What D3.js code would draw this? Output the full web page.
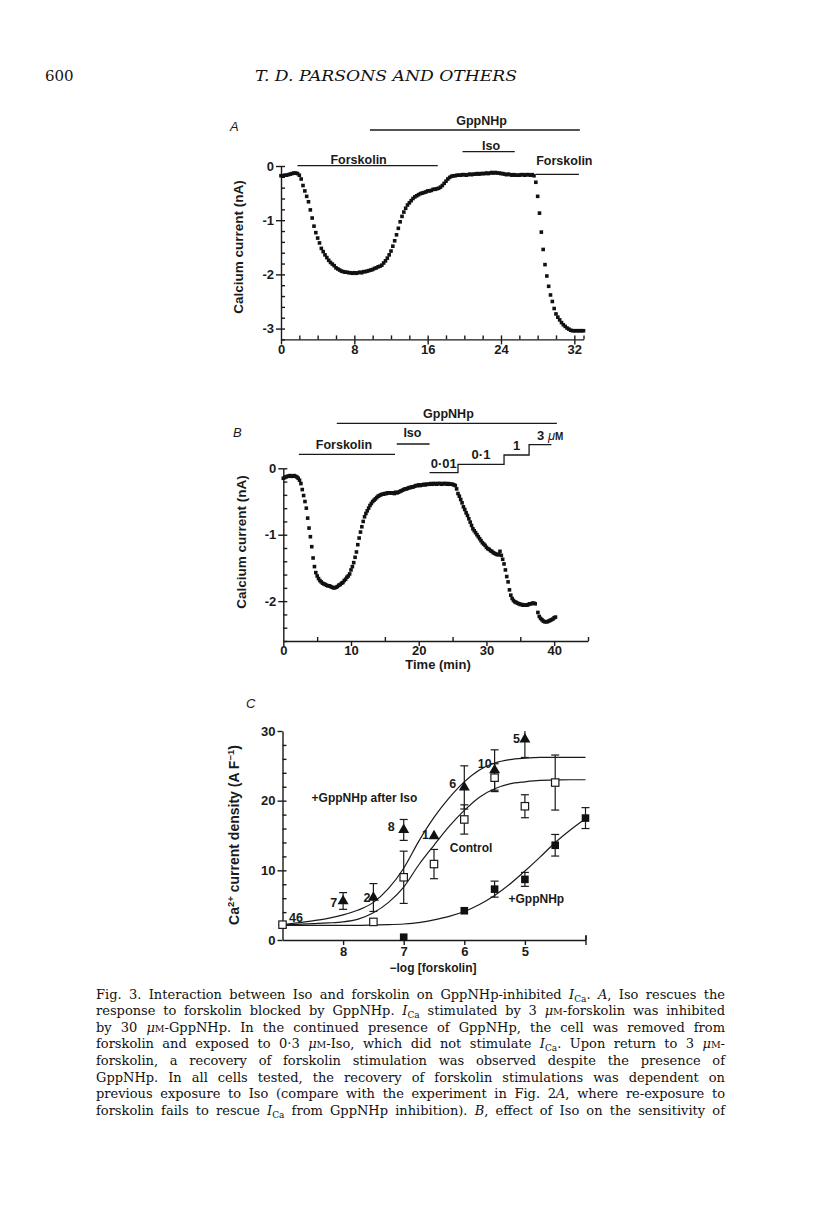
<!DOCTYPE html>
<html>
<head>
<meta charset="utf-8">
<title>Fig. 3</title>
<script src="https://cdn.jsdelivr.net/npm/d3@7/dist/d3.min.js"></script>
<style>
  body { margin: 0; background: #fff; }
  .lab { font-family: "Liberation Sans", Arial, sans-serif; font-weight: bold; fill: #1a1a1a; }
  .serif { font-family: "DejaVu Serif", serif; fill: #111; }
</style>
</head>
<body>
<svg id="page" width="816" height="1206"></svg>
<script>
// ---------------- data ----------------

// A: calcium current (nA), one sample every 0.2 min from t = 0
var sampleStepA = 0.2;
var currentA = [
  -0.18,-0.18,-0.17,-0.17,-0.16,-0.15,-0.14,-0.13,-0.13,-0.14,
  -0.17,-0.24,-0.36,-0.46,-0.56,-0.66,-0.81,-0.96,-1.11,-1.23,
  -1.33,-1.42,-1.52,-1.58,-1.64,-1.69,-1.74,-1.78,-1.81,-1.84,
  -1.88,-1.90,-1.92,-1.94,-1.95,-1.96,-1.96,-1.97,-1.97,-1.98,
  -1.97,-1.98,-1.97,-1.96,-1.97,-1.95,-1.95,-1.94,-1.93,-1.92,
  -1.91,-1.89,-1.88,-1.86,-1.85,-1.83,-1.79,-1.75,-1.70,-1.64,
  -1.57,-1.48,-1.38,-1.27,-1.15,-1.03,-0.93,-0.85,-0.78,-0.72,
  -0.68,-0.64,-0.60,-0.57,-0.55,-0.53,-0.51,-0.50,-0.49,-0.48,
  -0.46,-0.46,-0.45,-0.43,-0.43,-0.42,-0.41,-0.39,-0.36,-0.32,
  -0.28,-0.24,-0.21,-0.19,-0.18,-0.18,-0.17,-0.17,-0.17,-0.16,
  -0.16,-0.17,-0.16,-0.15,-0.16,-0.15,-0.15,-0.14,-0.15,-0.14,
  -0.14,-0.14,-0.13,-0.14,-0.13,-0.12,-0.13,-0.12,-0.13,-0.13,
  -0.14,-0.14,-0.15,-0.16,-0.15,-0.16,-0.17,-0.16,-0.17,-0.17,
  -0.17,-0.16,-0.16,-0.17,-0.16,-0.16,-0.17,-0.16,-0.18,-0.30,
  -0.56,-0.87,-1.22,-1.54,-1.82,-2.03,-2.22,-2.38,-2.50,-2.63,
  -2.73,-2.79,-2.84,-2.89,-2.93,-2.96,-2.99,-3.01,-3.03,-3.04,
  -3.04,-3.04,-3.04,-3.04,-3.04,-3.04
];
var drugsA = ["GppNHp", "Forskolin", "Iso", "Forskolin"];
var drugOnA = [9.7, 1.8, 19.8, 27.8];
var drugOffA = [32.6, 17.1, 25.5, 32.5];

// B: calcium current (nA), one sample every 0.2 min (null = gap in record)
var sampleStepB = 0.2;
var currentB = [
  -0.15,-0.14,-0.13,-0.12,-0.12,-0.11,-0.12,-0.12,-0.11,-0.12,
  -0.13,-0.15,-0.18,-0.23,-0.32,-0.41,-0.50,-0.60,-0.75,-0.90,
  -1.03,-1.18,-1.35,-1.48,-1.57,-1.62,-1.66,-1.69,-1.71,-1.73,
  -1.74,-1.75,-1.76,-1.77,-1.77,-1.78,-1.79,-1.80,-1.80,-1.79,
  -1.78,-1.76,-1.75,-1.73,-1.72,-1.69,-1.67,-1.64,-1.62,-1.59,
  -1.53,-1.48,-1.42,-1.34,-1.26,-1.15,-1.05,-0.96,-0.88,-0.80,
  -0.73,-0.68,-0.64,-0.60,-0.56,-0.53,-0.50,-0.48,-0.46,-0.44,
  -0.42,-0.41,-0.40,-0.39,-0.39,-0.38,-0.38,-0.37,-0.37,-0.37,
  -0.37,-0.37,-0.38,-0.36,-0.37,-0.36,-0.35,-0.34,-0.33,-0.32,
  -0.31,-0.31,-0.30,-0.29,-0.29,-0.28,-0.28,-0.27,-0.26,-0.26,
  -0.25,-0.26,-0.25,-0.25,-0.24,-0.25,-0.24,-0.24,-0.24,-0.23,
  -0.24,-0.23,-0.23,-0.24,-0.23,-0.23,-0.23,-0.24,-0.23,-0.23,
  -0.23,-0.24,-0.23,-0.24,-0.24,-0.24,-0.25,-0.26,-0.31,-0.38,
  -0.42,-0.47,-0.52,-0.58,-0.62,-0.67,-0.71,-0.76,-0.81,-0.86,
  -0.91,-0.94,-0.97,-1.00,-1.03,-1.06,-1.09,-1.12,-1.14,-1.16,
  -1.19,-1.21,-1.22,-1.24,-1.25,-1.27,-1.28,-1.29,-1.30,-1.30,
  -1.25,-1.31,-1.37,-1.44,-1.53,-1.63,-1.71,-1.83,-1.91,-1.96,
  -1.99,-2.01,-2.02,-2.03,-2.04,-2.05,-2.05,-2.06,-2.06,-2.06,
  -2.06,-2.05,-2.04,-2.04,-2.03,-2.03,-2.04, null,-2.17,-2.23,
  -2.26,-2.28,-2.30,-2.31,-2.31,-2.31,-2.30,-2.29,-2.28,-2.27,
  -2.25,-2.24
];
var drugsB = ["GppNHp", "Forskolin", "Iso"];
var drugOnB = [7.9, 2.3, 16.75];
var drugOffB = [40.4, 16.5, 21.6];
var doseLabels = ["0·01", "0·1", "1", "3"];
var doseOn = [21.6, 25.8, 32.6, 36.3];
var doseOff = [25.8, 32.6, 36.3, 39.6];

// C: Ca2+ current density (A/F) against -log[forskolin]
var isoLog = [8, 7.5, 7, 6.5, 6, 5.5, 5];              // +GppNHp after Iso (filled triangles)
var isoMean = [5.6, 6.1, 15.8, 14.9, 21.9, 24.4, 28.8];
var isoErr = [1.2, 2.0, 1.5, 0, 3.1, 2.9, 2.6];
var isoN = ["7", "2", "8", "1", "6", "10", "5"];

var ctlLog = [9, 7.5, 7, 6.5, 6, 5.5, 5, 4.5];          // Control (open squares)
var ctlMean = [2.2, 2.6, 9.0, 10.9, 17.3, 23.3, 19.2, 22.6];
var ctlErr = [0, 0, 3.75, 2.1, 2.1, 2.0, 1.65, 3.95];
var ctlN = ["46"];

var gppLog = [7, 6, 5.5, 5, 4.5, 4];                    // +GppNHp (filled squares)
var gppMean = [0.4, 4.2, 7.3, 8.7, 13.6, 17.5];
var gppErr = [0, 0, 1.15, 1.0, 1.55, 1.5];

// fitted curves
var fitLog = [9, 8.75, 8.5, 8.25, 8, 7.75, 7.5, 7.25, 7, 6.75, 6.5, 6.25, 6, 5.75, 5.5, 5.25, 5, 4.75, 4.5, 4.25, 4];
var fitIso = [2.2, 2.45, 2.75, 3.1, 3.6, 4.3, 5.4, 7.4, 10.3, 14.2, 17.6, 20.4, 22.7, 24.4, 25.4, 25.9, 26.1, 26.2, 26.2, 26.2, 26.2];
var fitCtl = [2.2, 2.25, 2.35, 2.45, 2.6, 3.0, 3.9, 5.4, 7.6, 10.8, 13.6, 16.3, 18.6, 20.5, 21.7, 22.4, 22.7, 22.9, 22.95, 23.0, 23.0];
var fitGpp = [2.1, 2.1, 2.1, 2.1, 2.1, 2.1, 2.15, 2.2, 2.3, 2.5, 2.9, 3.4, 4.1, 5.1, 6.4, 8.0, 9.9, 11.9, 14.0, 15.8, 17.4];

var captionLines = [
  ["Fig. 3. Interaction between Iso and forskolin on GppNHp-inhibited ", "I", "Ca", ". ", "A", ", Iso rescues the"],
  ["response to forskolin blocked by GppNHp. ", "I", "Ca", " stimulated by 3 ", "μ", "M", "-forskolin was inhibited"],
  ["by 30 ", "μ", "M", "-GppNHp. In the continued presence of GppNHp, the cell was removed from"],
  ["forskolin and exposed to 0·3 ", "μ", "M", "-Iso, which did not stimulate ", "I", "Ca", ". Upon return to 3 ", "μ", "M", "-"],
  ["forskolin, a recovery of forskolin stimulation was observed despite the presence of"],
  ["GppNHp. In all cells tested, the recovery of forskolin stimulations was dependent on"],
  ["previous exposure to Iso (compare with the experiment in Fig. 2", "A", ", where re-exposure to"],
  ["forskolin fails to rescue ", "I", "Ca", " from GppNHp inhibition). ", "B", ", effect of Iso on the sensitivity of"]
];

// ---------------- drawing ----------------
var svg = d3.select("#page");
var ink = "#1a1a1a";

function axes(x, y, o) {
  var x0 = x.range()[0], y0 = y.range()[0];
  var gy = svg.append("g").attr("class", "axis").attr("transform", "translate(" + x0 + ",0)");
  gy.call(d3.axisLeft(y).tickValues(o.yMajor).tickSize(5).tickSizeOuter(0).tickPadding(2).tickFormat(o.yFmt));
  gy.append("g").call(d3.axisLeft(y).tickValues(o.yMinor).tickSize(-4).tickFormat("")).select(".domain").remove();
  var gx = svg.append("g").attr("class", "axis").attr("transform", "translate(0," + y0 + ")");
  gx.call(d3.axisBottom(x).tickValues(o.xMajor).tickSize(5).tickSizeOuter(0).tickPadding(o.xPad).tickFormat(o.xFmt));
  gx.append("g").call(d3.axisBottom(x).tickValues(o.xMinor).tickSize(-4).tickFormat("")).select(".domain").remove();
  svg.selectAll(".axis").attr("font-family", null).attr("font-size", null);
  svg.selectAll(".axis text").attr("class", "lab").style("font-size", "13px");
  svg.selectAll(".axis path, .axis line").attr("stroke", ink).attr("stroke-width", 1.4);
}

function yTitle(cx, cy, size) {
  return svg.append("text").attr("class", "lab")
    .attr("transform", "translate(" + cx + "," + cy + ") rotate(-90)")
    .attr("text-anchor", "middle").style("font-size", size + "px");
}

function panelLetter(s, x, y) {
  svg.append("text").attr("class", "lab").attr("x", x).attr("y", y)
    .style("font-style", "italic").style("font-weight", "normal").style("font-size", "13px").text(s);
}

function drugBars(names, on, off, x, rows, nudge) {
  names.forEach(function (n, i) {
    svg.append("line").attr("x1", x(on[i])).attr("x2", x(off[i]))
      .attr("y1", rows[i]).attr("y2", rows[i]).attr("stroke", ink).attr("stroke-width", 1.3);
    svg.append("text").attr("class", "lab").attr("text-anchor", "middle")
      .attr("x", (x(on[i]) + x(off[i])) / 2 + nudge[i][0]).attr("y", rows[i] + nudge[i][1])
      .style("font-size", "12.5px").text(n);
  });
}

function trace(values, step, x, y) {
  var pts = values.map(function (v, i) { return { t: i * step, v: v }; })
    .filter(function (d) { return d.v !== null; });
  svg.append("g").selectAll("rect").data(pts).join("rect")
    .attr("x", function (d) { return x(d.t) - 1.8; })
    .attr("y", function (d) { return y(d.v) - 1.8; })
    .attr("width", 3.6).attr("height", 3.6).attr("fill", "#111");
}

// ---- page header ----
svg.append("text").attr("class", "serif").attr("x", 45).attr("y", 81).style("font-size", "15px").text("600");
svg.append("text").attr("class", "serif").attr("x", 255).attr("y", 81)
  .attr("textLength", 262).attr("lengthAdjust", "spacingAndGlyphs")
  .style("font-size", "15px").style("font-style", "italic").text("T. D. PARSONS AND OTHERS");

// ---- panel A ----
var xA = d3.scaleLinear().domain([0, 33]).range([281, 583.5]);
var yA = d3.scaleLinear().domain([-3.2, 0]).range([339.4, 166]);
axes(xA, yA, {
  yMajor: [0, -1, -2, -3], yMinor: d3.range(0, -3.21, -0.2),
  xMajor: [0, 8, 16, 24, 32], xMinor: d3.range(2, 33, 2).concat([33]),
  yFmt: function (d) { return String(d); }, xFmt: function (d) { return String(d); }, xPad: 0
});
yTitle(243, 247, 13.5).text("Calcium current (nA)");
panelLetter("A", 230, 131);
drugBars(drugsA, drugOnA, drugOffA, xA, [130, 165.7, 151.7, 174.3],
  [[6.7, -5.5], [-9, -1.5], [2.4, -1.7], [7, -9.3]]);
trace(currentA, sampleStepA, xA, yA);

// ---- panel B ----
var xB = d3.scaleLinear().domain([0, 45]).range([283.3, 588]);
var yB = d3.scaleLinear().domain([-2.6, 0]).range([641, 468.3]);
axes(xB, yB, {
  yMajor: [0, -1, -2], yMinor: d3.range(0, -2.61, -0.2),
  xMajor: [0, 10, 20, 30, 40], xMinor: [5, 15, 25, 35, 45],
  yFmt: function (d) { return String(d); }, xFmt: function (d) { return String(d); }, xPad: 0
});
yTitle(246, 542, 13.5).text("Calcium current (nA)");
svg.append("text").attr("class", "lab").attr("x", 438).attr("y", 668.5)
  .attr("text-anchor", "middle").style("font-size", "13px").text("Time (min)");
panelLetter("B", 233, 437);
drugBars(drugsB, drugOnB, drugOffB, xB, [423.3, 454.3, 444], [[1.6, -5.6], [-3, -5], [-0.7, -7.3]]);

// forskolin concentration steps
var doseRows = [472.7, 464.3, 455, 444.7];
var stepPts = [];
doseLabels.forEach(function (c, i) {
  stepPts.push([xB(doseOn[i]), doseRows[i]], [xB(doseOff[i]), doseRows[i]]);
});
svg.append("path").attr("d", d3.line()(stepPts)).attr("fill", "none")
  .attr("stroke", ink).attr("stroke-width", 1.3);
doseLabels.forEach(function (c, i) {
  var last = i === doseLabels.length - 1;
  var t = svg.append("text").attr("class", "lab")
    .attr("text-anchor", last ? "start" : "middle")
    .attr("x", last ? xB(doseOn[i]) + 8 : (xB(doseOn[i]) + xB(doseOff[i])) / 2)
    .attr("y", doseRows[i] - 5.2).style("font-size", "13px").text(c);
  if (last) {
    t.append("tspan").text(" ");
    t.append("tspan").style("font-style", "italic").style("font-weight", "normal").text("μ");
    t.append("tspan").style("font-size", "10px").text("M");
  }
});
trace(currentB, sampleStepB, xB, yB);

// ---- panel C ----
var xC = d3.scaleLinear().domain([9, 4]).range([282.5, 585.5]);
var yC = d3.scaleLinear().domain([0, 30]).range([940, 731]);
axes(xC, yC, {
  yMajor: [0, 10, 20, 30], yMinor: d3.range(2, 30, 2),
  xMajor: [8, 7, 6, 5], xMinor: [4],
  yFmt: function (d) { return String(d); }, xFmt: function (d) { return String(d); }, xPad: 2
});
// tick crossing the right end of the x axis
svg.append("line").attr("x1", xC(4) + 0.5).attr("x2", xC(4) + 0.5).attr("y1", yC(0) - 5).attr("y2", yC(0) + 5)
  .attr("stroke", ink).attr("stroke-width", 1.4);

var yt = yTitle(239, 835, 14);
yt.append("tspan").text("Ca");
yt.append("tspan").attr("dy", -5).style("font-size", "9.5px").text("2+");
yt.append("tspan").attr("dy", 5).text(" current density (A F");
yt.append("tspan").attr("dy", -5).style("font-size", "9.5px").text("−1");
yt.append("tspan").attr("dy", 5).text(")");
svg.append("text").attr("class", "lab").attr("x", 433).attr("y", 972)
  .attr("text-anchor", "middle").style("font-size", "12px").text("−log [forskolin]");
panelLetter("C", 246, 708);

var fitLine = d3.line().curve(d3.curveMonotoneX)
  .x(function (d) { return xC(d[0]); }).y(function (d) { return yC(d[1]); });
[fitIso, fitCtl, fitGpp].forEach(function (f) {
  svg.append("path").attr("d", fitLine(fitLog.map(function (l, i) { return [l, f[i]]; })))
    .attr("fill", "none").attr("stroke", ink).attr("stroke-width", 1.2);
});

svg.append("defs").append("clipPath").attr("id", "plotC").append("rect")
  .attr("x", 270).attr("y", yC(30)).attr("width", 330).attr("height", yC(0) - yC(30) + 6);

function errorBars(logs, means, errs) {
  var g = svg.append("g").attr("clip-path", "url(#plotC)");
  logs.forEach(function (l, i) {
    if (!errs[i]) return;
    var xx = xC(l), lo = yC(means[i] - errs[i]), hi = yC(means[i] + errs[i]);
    g.append("line").attr("x1", xx).attr("x2", xx).attr("y1", lo).attr("y2", hi);
    g.append("line").attr("x1", xx - 4).attr("x2", xx + 4).attr("y1", lo).attr("y2", lo);
    g.append("line").attr("x1", xx - 4).attr("x2", xx + 4).attr("y1", hi).attr("y2", hi);
  });
  g.selectAll("line").attr("stroke", ink).attr("stroke-width", 1.2);
}
errorBars(ctlLog, ctlMean, ctlErr);
errorBars(gppLog, gppMean, gppErr);
errorBars(isoLog, isoMean, isoErr);

svg.append("g").selectAll("rect").data(ctlLog).join("rect")
  .attr("x", function (d) { return xC(d) - 3.7; })
  .attr("y", function (d, i) { return yC(ctlMean[i]) - 3.7; })
  .attr("width", 7.4).attr("height", 7.4).attr("fill", "#fff").attr("stroke", ink).attr("stroke-width", 1.2);
svg.append("g").selectAll("rect").data(gppLog).join("rect")
  .attr("x", function (d) { return xC(d) - 3.8; })
  .attr("y", function (d, i) { return yC(gppMean[i]) - 3.8; })
  .attr("width", 7.6).attr("height", 7.6).attr("fill", "#111");
svg.append("g").selectAll("path").data(isoLog).join("path")
  .attr("d", d3.symbol(d3.symbolTriangle, 52))
  .attr("transform", function (d, i) { return "translate(" + xC(d) + "," + yC(isoMean[i]) + ")"; })
  .attr("fill", "#111");

// n numbers beside the triangles
var nNudge = [[-1, 2], [2, 0], [-4, -3], [0, -1], [-3, -3], [2, -6], [0, 0]];
isoN.forEach(function (n, i) {
  svg.append("text").attr("class", "lab").attr("text-anchor", "end")
    .attr("x", xC(isoLog[i]) - 5 + nNudge[i][0]).attr("y", yC(isoMean[i]) + 4 + nNudge[i][1])
    .style("font-size", "12.5px").text(n);
});
svg.append("text").attr("class", "lab").attr("x", xC(ctlLog[0]) + 6.5).attr("y", yC(ctlMean[0]) - 3)
  .style("font-size", "12.5px").text(ctlN[0]);

// curve names
[["+GppNHp after Iso", 8.52, 19.85], ["Control", 6.24, 12.67], ["+GppNHp", 5.27, 5.27]].forEach(function (a) {
  svg.append("text").attr("class", "lab").attr("x", xC(a[1])).attr("y", yC(a[2]))
    .style("font-size", "12px").text(a[0]);
});

// ---- caption ----
var capLeft = 96, capRight = 725, capTop = 998.5, capLead = 16.65;
var italics = { "I": 1, "A": 1, "B": 1, "μ": 1 };
captionLines.forEach(function (parts, li) {
  var t = svg.append("text").attr("class", "serif").attr("x", capLeft)
    .attr("y", capTop + li * capLead).style("font-size", "13px");
  var shift = 0;
  parts.forEach(function (p) {
    var ts = t.append("tspan").text(p);
    var want = p === "Ca" ? 3 : 0;
    if (want !== shift) { ts.attr("dy", want - shift); shift = want; }
    if (italics[p]) ts.style("font-style", "italic");
    if (p === "Ca") ts.style("font-size", "9px");
    if (p === "M") ts.style("font-size", "9.5px");
  });
  var natural = t.node().getComputedTextLength();
  var gaps = t.text().split(" ").length - 1;
  var extra = (capRight - capLeft - natural) / gaps;
  if (extra < -1.2) {
    t.attr("textLength", capRight - capLeft).attr("lengthAdjust", "spacingAndGlyphs");
  } else {
    t.style("word-spacing", extra + "px");
  }
});
</script>
</body>
</html>
